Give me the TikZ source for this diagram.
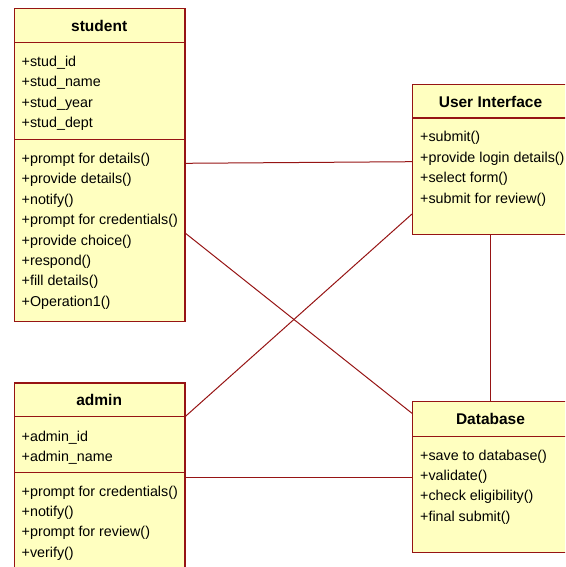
\documentclass[tikz,border=0pt]{standalone}
\usepackage{fontspec}
\setmainfont{Liberation Sans}
\definecolor{umlred}{RGB}{150,20,20}
\definecolor{umlfill}{RGB}{255,255,192}
\begin{document}
\begin{tikzpicture}[x=1pt,y=-1pt,
  classbox/.style={draw=umlred, fill=umlfill, line width=1.2pt, anchor=north west, inner sep=0pt, rectangle},
  sepline/.style={draw=umlred, line width=1.2pt},
  assoc/.style={draw=umlred, line width=1pt},
  member/.style={anchor=base west, inner sep=0pt, font=\fontsize{14.3}{17}\selectfont},
  ctitle/.style={anchor=base, inner sep=0pt, font=\fontsize{15.5}{18}\selectfont\bfseries}]
\useasboundingbox (0,0) rectangle (565,567);
\clip (0,0) rectangle (565,567);

% class boxes
\node[classbox, minimum width=170.3pt, minimum height=312.4pt] (student) at (14,8.3) {};
\node[classbox, minimum width=170.3pt, minimum height=200pt] (admin) at (14,382.3) {};
\node[classbox, minimum width=157pt, minimum height=150pt] (ui) at (412,84) {};
\node[classbox, minimum width=157pt, minimum height=150.7pt] (db) at (412,401) {};

% compartment separators
\draw[sepline] (14,42.7) -- (184.3,42.7);
\draw[sepline] (14,139.3) -- (184.3,139.3);
\draw[sepline] (14,416.7) -- (184.3,416.7);
\draw[sepline] (14,472.3) -- (184.3,472.3);
\draw[sepline] (412,118) -- (569,118);
\draw[sepline] (412,436.7) -- (569,436.7);

% titles
\node[ctitle] (studentT) at (99.2,31.5) {student};
\node[ctitle] (adminT) at (99.2,405.7) {admin};
\node[ctitle] (uiT) at (490.5,107.5) {User Interface};
\node[ctitle] (dbT) at (490.5,424) {Database};

% student members
\foreach \t [count=\i] in {+stud\_id,+stud\_name,+stud\_year,+stud\_dept}
  \node[member] (sa\i) at (21.5,{66.5+20.4*(\i-1)}) {\t};
\foreach \t [count=\i] in {+prompt for details(),+provide details(),+notify(),+prompt for credentials(),+provide choice(),+respond(),+fill details(),+Operation1()}
  \node[member] (so\i) at (21.5,{163.5+20.4*(\i-1)}) {\t};

% admin members
\foreach \t [count=\i] in {+admin\_id,+admin\_name}
  \node[member] (aa\i) at (21.5,{441+20.5*(\i-1)}) {\t};
\foreach \t [count=\i] in {+prompt for credentials(),+notify(),+prompt for review(),+verify()}
  \node[member] (ao\i) at (21.5,{496+20.4*(\i-1)}) {\t};

% user interface members
\foreach \t [count=\i] in {+submit(),+provide login details(),+select form(),+submit for review()}
  \node[member] (uo\i) at (420,{142+20.4*(\i-1)}) {\t};

% database members
\foreach \t [count=\i] in {+save to database(),+validate(),+check eligibility(),+final submit()}
  \node[member] (do\i) at (420,{460+20.4*(\i-1)}) {\t};

% associations
\draw[assoc] ([yshift=-155pt]student.north east) -- ([yshift=-77.7pt]ui.north west);
\draw[assoc] ([yshift=-225pt]student.north east) -- ([yshift=-12.3pt]db.north west);
\draw[assoc] ([yshift=-34pt]admin.north east) -- ([yshift=-130pt]ui.north west);
\draw[assoc] ([yshift=-95pt]admin.north east) -- ([yshift=-76.3pt]db.north west);
\draw[assoc] ([xshift=78.7pt]ui.south west) -- ([xshift=78.7pt]db.north west);
\end{tikzpicture}
\end{document}
